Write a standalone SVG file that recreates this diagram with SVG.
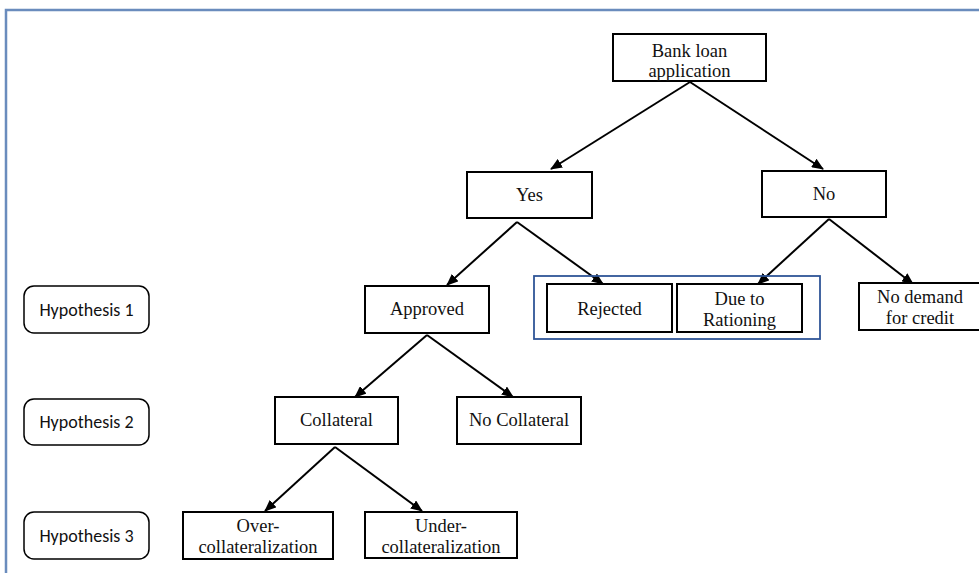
<svg xmlns="http://www.w3.org/2000/svg" width="979" height="573" viewBox="0 0 979 573">
<defs>
<style>
.box{fill:#fff;stroke:#000;stroke-width:2}
.hyp{fill:#fff;stroke:#000;stroke-width:1.5}
.t{font-family:"Liberation Serif","Times New Roman",serif;font-size:18.5px;fill:#111;text-anchor:middle}
.h{font-family:"Carlito","Liberation Sans",sans-serif;font-size:18px;fill:#111;text-anchor:middle}
.c{stroke:#000;stroke-width:2;fill:none;marker-end:url(#ah)}
</style>
<marker id="ah" markerUnits="userSpaceOnUse" markerWidth="12" markerHeight="10" viewBox="0 0 12 10" refX="11" refY="5" orient="auto">
<path d="M0,0 L12,5 L0,10 Z" fill="#000"/>
</marker>
</defs>
<rect x="0" y="0" width="979" height="573" fill="#fff"/>
<rect x="6" y="10" width="1000" height="600" fill="none" stroke="#6a8cbd" stroke-width="2.5"/>

<g id="connectors">
<line class="c" x1="690" y1="82" x2="551" y2="169"/>
<line class="c" x1="690" y1="82" x2="823" y2="169"/>
<line class="c" x1="517" y1="222" x2="447" y2="285"/>
<line class="c" x1="517" y1="222" x2="603" y2="284"/>
<line class="c" x1="829" y1="219" x2="758" y2="284"/>
<line class="c" x1="829" y1="219" x2="913" y2="284"/>
<line class="c" x1="427" y1="335" x2="355" y2="397"/>
<line class="c" x1="427" y1="335" x2="513" y2="397"/>
<line class="c" x1="335" y1="447" x2="265" y2="511"/>
<line class="c" x1="335" y1="447" x2="422" y2="511"/>
</g>

<g id="group-rejected">
<rect x="534" y="276" width="286" height="63" fill="none" stroke="#2f5597" stroke-width="1.8"/>
</g>

<g id="bank-loan">
<rect class="box" x="613" y="34" width="153" height="47"/>
<text class="t" x="689.5" y="57">Bank loan</text>
<text class="t" x="689.5" y="77">application</text>
</g>
<g id="yes">
<rect class="box" x="467" y="172" width="125" height="46"/>
<text class="t" x="529.5" y="201">Yes</text>
</g>
<g id="no">
<rect class="box" x="762" y="171" width="124" height="46"/>
<text class="t" x="824" y="200">No</text>
</g>
<g id="approved">
<rect class="box" x="365" y="286" width="124" height="47"/>
<text class="t" x="427" y="315">Approved</text>
</g>
<g id="rejected">
<rect class="box" x="547" y="284" width="125" height="48"/>
<text class="t" x="609.5" y="315">Rejected</text>
</g>
<g id="rationing">
<rect class="box" x="677" y="284" width="125" height="48"/>
<text class="t" x="739.5" y="305">Due to</text>
<text class="t" x="739.5" y="326">Rationing</text>
</g>
<g id="no-demand">
<rect class="box" x="859" y="283" width="124" height="47"/>
<text class="t" x="920" y="303">No demand</text>
<text class="t" x="920" y="324">for credit</text>
</g>
<g id="collateral">
<rect class="box" x="275" y="397" width="123" height="47"/>
<text class="t" x="336.5" y="426">Collateral</text>
</g>
<g id="no-collateral">
<rect class="box" x="457" y="397" width="124" height="47"/>
<text class="t" x="519" y="426">No Collateral</text>
</g>
<g id="over">
<rect class="box" x="183" y="512" width="150" height="47"/>
<text class="t" x="258" y="532">Over-</text>
<text class="t" x="258" y="553">collateralization</text>
</g>
<g id="under">
<rect class="box" x="365" y="512" width="152" height="46"/>
<text class="t" x="441" y="532">Under-</text>
<text class="t" x="441" y="553">collateralization</text>
</g>

<g id="hyp1">
<rect class="hyp" x="24" y="286" width="125" height="47" rx="10"/>
<text class="h" x="86.5" y="315.5">Hypothesis 1</text>
</g>
<g id="hyp2">
<rect class="hyp" x="24" y="399" width="125" height="46" rx="10"/>
<text class="h" x="86.5" y="428">Hypothesis 2</text>
</g>
<g id="hyp3">
<rect class="hyp" x="24" y="512" width="125" height="47" rx="10"/>
<text class="h" x="86.5" y="541.5">Hypothesis 3</text>
</g>
</svg>
